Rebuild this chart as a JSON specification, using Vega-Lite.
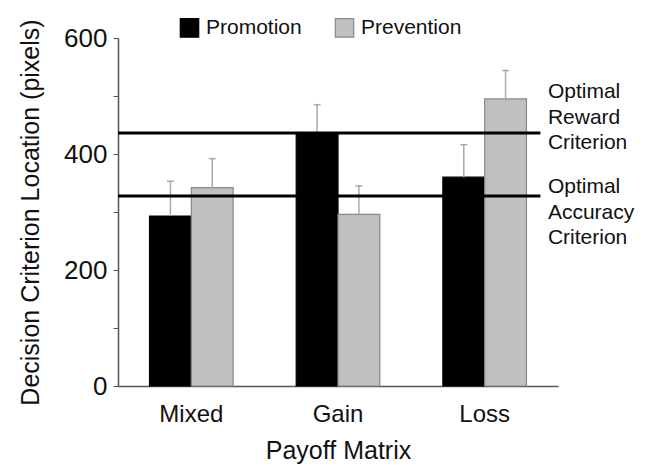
{
  "$schema": "https://vega.github.io/schema/vega-lite/v6.json",
  "width": 440,
  "height": 348,
  "autosize": {"type": "none"},
  "padding": {"left": 118, "top": 38, "right": 91, "bottom": 80},
  "background": "white",
  "config": {
    "font": "Liberation Sans",
    "view": {"stroke": null}
  },
  "datasets": {
    "bars": [
      {"matrix": "Mixed", "group": "Promotion", "mean": 293, "upper": 353},
      {"matrix": "Mixed", "group": "Prevention", "mean": 342, "upper": 392},
      {"matrix": "Gain", "group": "Promotion", "mean": 437, "upper": 485},
      {"matrix": "Gain", "group": "Prevention", "mean": 296, "upper": 345},
      {"matrix": "Loss", "group": "Promotion", "mean": 360, "upper": 416},
      {"matrix": "Loss", "group": "Prevention", "mean": 495, "upper": 544}
    ],
    "criteria": [
      {"criterion": "Reward", "value": 436, "label": ["Optimal", "Reward", "Criterion"]},
      {"criterion": "Accuracy", "value": 327.5, "label": ["Optimal", "Accuracy", "Criterion"]}
    ]
  },
  "layer": [
    {
      "data": {"name": "bars"},
      "layer": [
        {
          "mark": {"type": "bar", "strokeWidth": 1.2},
          "encoding": {
            "x": {
              "field": "matrix", "type": "nominal", "sort": ["Mixed", "Gain", "Loss"],
              "scale": {"paddingInner": 0.43, "paddingOuter": 0.215},
              "axis": {
                "title": "Payoff Matrix", "labelAngle": 0, "ticks": false,
                "labelFontSize": 24, "labelColor": "#111", "labelPadding": 16,
                "titleFontSize": 25, "titleFontWeight": "normal", "titleColor": "#111", "titlePadding": 12,
                "domainColor": "#555", "domainWidth": 1.5
              }
            },
            "xOffset": {"field": "group", "type": "nominal", "sort": ["Promotion", "Prevention"], "scale": {"paddingInner": 0, "paddingOuter": 0}},
            "y": {
              "field": "mean", "type": "quantitative",
              "scale": {"domain": [0, 600], "nice": false},
              "axis": {
                "title": "Decision Criterion Location (pixels)",
                "values": [0, 100, 200, 300, 400, 500, 600],
                "labelExpr": "datum.value % 200 == 0 ? datum.label : ''",
                "grid": false, "tickSize": 5, "tickColor": "#555", "tickWidth": 1,
                "labelFontSize": 26, "labelColor": "#111", "labelPadding": 6,
                "titleFontSize": 25, "titleFontWeight": "normal", "titleColor": "#111", "titlePadding": 20,
                "domainColor": "#555", "domainWidth": 1.5
              }
            },
            "fill": {
              "field": "group", "type": "nominal", "sort": ["Promotion", "Prevention"],
              "scale": {"domain": ["Promotion", "Prevention"], "range": ["#000000", "#c0c0c0"]},
              "legend": {
                "title": null, "orient": "none", "direction": "horizontal",
                "legendX": 61, "legendY": -21,
                "symbolType": "square", "symbolSize": 340, "symbolStrokeWidth": 1.2,
                "labelFontSize": 21, "labelColor": "#111", "labelOffset": 6,
                "columnPadding": 30, "padding": 0
              }
            },
            "stroke": {
              "field": "group", "type": "nominal",
              "scale": {"domain": ["Promotion", "Prevention"], "range": ["#000000", "#888888"]},
              "legend": null
            }
          }
        },
        {
          "mark": {"type": "rule", "color": "#aaaaaa", "strokeWidth": 1.5},
          "encoding": {
            "x": {"field": "matrix", "type": "nominal", "sort": ["Mixed", "Gain", "Loss"]},
            "xOffset": {"field": "group", "type": "nominal", "sort": ["Promotion", "Prevention"]},
            "y": {"field": "mean", "type": "quantitative"},
            "y2": {"field": "upper"}
          }
        },
        {
          "mark": {"type": "tick", "color": "#888888", "size": 7, "thickness": 1.5, "orient": "horizontal"},
          "encoding": {
            "x": {"field": "matrix", "type": "nominal", "sort": ["Mixed", "Gain", "Loss"]},
            "xOffset": {"field": "group", "type": "nominal", "sort": ["Promotion", "Prevention"]},
            "y": {"field": "upper", "type": "quantitative"}
          }
        }
      ]
    },
    {
      "data": {"name": "criteria"},
      "layer": [
        {
          "mark": {"type": "rule", "color": "#000000", "strokeWidth": 3},
          "encoding": {
            "x": {"datum": 0, "type": "quantitative", "scale": {"domain": [0, 1], "nice": false}, "axis": null},
            "x2": {"datum": 0.96},
            "y": {"field": "value", "type": "quantitative"}
          }
        },
        {
          "transform": [{"filter": "datum.criterion == 'Reward'"}],
          "mark": {"type": "text", "align": "left", "baseline": "middle", "fontSize": 21, "lineHeight": 25.5, "color": "#111", "dy": -41},
          "encoding": {
            "x": {"datum": 0.977, "type": "quantitative"},
            "y": {"field": "value", "type": "quantitative"},
            "text": {"field": "label"}
          }
        },
        {
          "transform": [{"filter": "datum.criterion == 'Accuracy'"}],
          "mark": {"type": "text", "align": "left", "baseline": "middle", "fontSize": 21, "lineHeight": 25.5, "color": "#111", "dy": -9},
          "encoding": {
            "x": {"datum": 0.977, "type": "quantitative"},
            "y": {"field": "value", "type": "quantitative"},
            "text": {"field": "label"}
          }
        }
      ],
      "resolve": {"scale": {"x": "shared"}}
    }
  ],
  "resolve": {"scale": {"x": "independent"}}
}
